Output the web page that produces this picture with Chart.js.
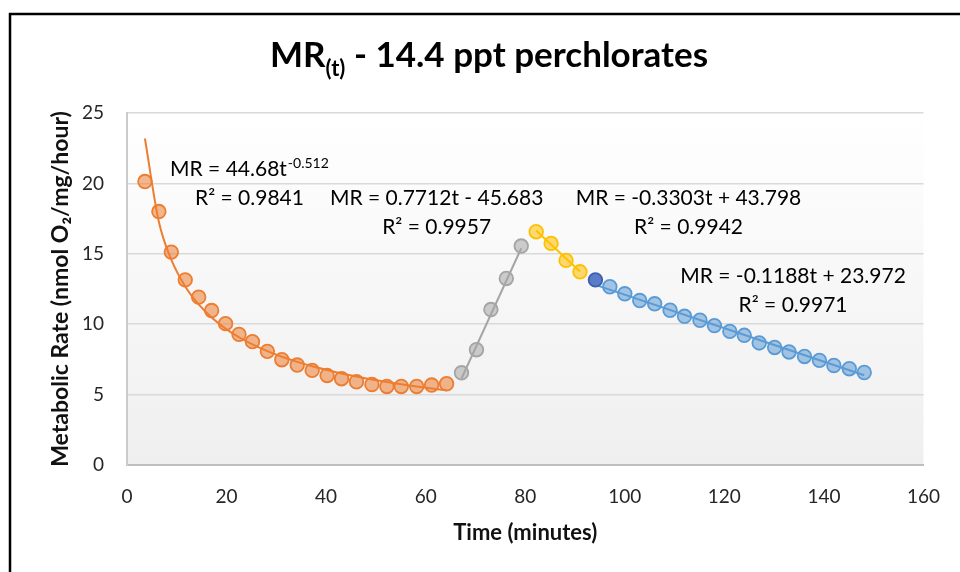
<!DOCTYPE html>
<html>
<head>
<meta charset="utf-8">
<title>MR(t) - 14.4 ppt perchlorates</title>
<script src="https://cdn.jsdelivr.net/npm/chart.js@4.4.1/dist/chart.umd.min.js"></script>
<style>
  html, body { margin: 0; padding: 0; background: #fff; }
  #wrap { position: relative; width: 960px; height: 572px; }
</style>
</head>
<body>
<div id="wrap"><canvas id="mrChart"></canvas></div>
<script>
// time (minutes) and metabolic rate (nmol O2/mg/hour), one pair per phase
const phase1Time = [3.6, 6.4, 8.9, 11.7, 14.4, 17.0, 19.8, 22.5, 25.2, 28.2, 31.1, 34.2, 37.2, 40.2, 43.1, 46.1, 49.2, 52.2, 55.1, 58.2, 61.2, 64.2];
const phase1MR   = [20.13, 18.0, 15.12, 13.15, 11.92, 10.97, 10.04, 9.28, 8.76, 8.07, 7.48, 7.10, 6.72, 6.36, 6.13, 5.91, 5.72, 5.58, 5.58, 5.58, 5.68, 5.77];

const phase2Time = [67.2, 70.2, 73.1, 76.2, 79.2];
const phase2MR   = [6.55, 8.19, 11.04, 13.25, 15.55];

const phase3Time = [82.2, 85.2, 88.2, 91.0];
const phase3MR   = [16.57, 15.74, 14.53, 13.72];

const phase4Time = [94.1, 97.0, 100.0, 103.0, 106.0, 109.1, 112.0, 115.1, 118.0, 121.1, 124.0, 127.0, 130.1, 133.0, 136.1, 139.1, 142.0, 145.1, 148.1];
const phase4MR   = [13.15, 12.66, 12.16, 11.68, 11.45, 10.99, 10.56, 10.28, 9.90, 9.49, 9.21, 8.67, 8.35, 8.03, 7.71, 7.43, 7.07, 6.84, 6.57];

// trendline coefficients as printed on the chart
const fitPower  = [44.68, -0.512];     // MR = a * t^b
const fitPhase2 = [0.7712, -45.683];   // MR = m * t + c
const fitPhase3 = [-0.3303, 43.798];
const fitPhase4 = [-0.1188, 23.972];

const xTicks = [0, 20, 40, 60, 80, 100, 120, 140, 160];
const yTicks = [0, 5, 10, 15, 20, 25];

const fitNotes = [
    { eq: 'MR = 44.68t', sup: '-0.512', r2: 'R² = 0.9841', t: 24.6, mr: 20.5 },
    { eq: 'MR = 0.7712t - 45.683', r2: 'R² = 0.9957', t: 62.2, mr: 18.45 },
    { eq: 'MR = -0.3303t + 43.798', r2: 'R² = 0.9942', t: 112.8, mr: 18.45 },
    { eq: 'MR = -0.1188t + 23.972', r2: 'R² = 0.9971', t: 133.8, mr: 12.96 }
];

const chartFont = 'Lato, "Open Sans", sans-serif';

function toPoints(xs, ys) {
    return xs.map((t, i) => ({ x: t, y: ys[i] }));
}
function linearTrend(xs, fit) {
    const ends = [xs[0], xs[xs.length - 1]];
    return ends.map(t => ({ x: t, y: fit[0] * t + fit[1] }));
}
function powerTrend(xs, fit) {
    return xs.map(t => ({ x: t, y: fit[0] * Math.pow(t, fit[1]) }));
}

const markerStyle = (fill, border) => ({
    showLine: false,
    pointRadius: 6.8,
    pointBorderWidth: 1.8,
    pointBackgroundColor: fill,
    pointBorderColor: border,
    order: 0
});
const trendStyle = (color) => ({
    showLine: true,
    pointRadius: 0,
    borderColor: color,
    borderWidth: 2,
    cubicInterpolationMode: 'monotone',
    order: 1
});

const chartFrame = {
    id: 'chartFrame',
    beforeDraw(chart) {
        const { ctx, chartArea: a } = chart;
        ctx.save();
        ctx.fillStyle = '#fff';
        ctx.fillRect(0, 0, chart.width, chart.height);
        // outer frame (cut off at right and bottom)
        ctx.strokeStyle = '#000';
        ctx.lineWidth = 2.5;
        ctx.beginPath();
        ctx.moveTo(10, chart.height + 5);
        ctx.lineTo(10, 14);
        ctx.lineTo(chart.width + 5, 14);
        ctx.stroke();
        // plot area gradient
        const g = ctx.createLinearGradient(0, a.top, 0, a.bottom);
        g.addColorStop(0, '#ffffff');
        g.addColorStop(1, '#efefef');
        ctx.fillStyle = g;
        ctx.fillRect(a.left, a.top, a.width, a.height);
        ctx.restore();
    },
    afterDatasetsDraw(chart) {
        const { ctx, scales: { x, y } } = chart;
        ctx.save();
        ctx.fillStyle = '#000';
        ctx.textBaseline = 'alphabetic';
        fitNotes.forEach(n => {
            const cx = x.getPixelForValue(n.t);
            const by = y.getPixelForValue(n.mr);
            ctx.font = `21px ${chartFont}`;
            const w = ctx.measureText(n.eq).width;
            let sw = 0;
            if (n.sup) {
                ctx.font = `14px ${chartFont}`;
                sw = ctx.measureText(n.sup).width + 1;
            }
            const x0 = cx - (w + sw) / 2;
            ctx.textAlign = 'left';
            ctx.font = `21px ${chartFont}`;
            ctx.fillText(n.eq, x0, by);
            if (n.sup) {
                ctx.font = `14px ${chartFont}`;
                ctx.fillText(n.sup, x0 + w + 1, by - 8);
            }
            ctx.font = `21px ${chartFont}`;
            ctx.textAlign = 'center';
            ctx.fillText(n.r2, cx, by + 29);
        });

        // title with subscript
        const main = 'MR', sub = '(t)', rest = ' - 14.4 ppt perchlorates';
        ctx.font = `bold 35px ${chartFont}`;
        const w1 = ctx.measureText(main).width;
        const w3 = ctx.measureText(rest).width;
        ctx.font = `bold 22px ${chartFont}`;
        const w2 = ctx.measureText(sub).width;
        const tx = 489 - (w1 + w2 + w3) / 2;
        const ty = 67;
        ctx.textAlign = 'left';
        ctx.font = `bold 35px ${chartFont}`;
        ctx.fillText(main, tx, ty);
        ctx.font = `bold 22px ${chartFont}`;
        ctx.fillText(sub, tx + w1, ty + 9);
        ctx.font = `bold 35px ${chartFont}`;
        ctx.fillText(rest, tx + w1 + w2, ty);
        ctx.restore();
    }
};

const ctx = document.getElementById('mrChart');
const config = {
    type: 'scatter',
    data: {
        datasets: [
            { label: 'phase 1', data: toPoints(phase1Time, phase1MR), ...markerStyle('rgba(237,125,49,0.55)', '#ed7d31') },
            { label: 'phase 2', data: toPoints(phase2Time, phase2MR), ...markerStyle('rgba(165,165,165,0.55)', '#a5a5a5') },
            { label: 'phase 3', data: toPoints(phase3Time, phase3MR), ...markerStyle('rgba(255,192,0,0.55)', '#ffc000') },
            { label: 'phase 4', data: toPoints(phase4Time, phase4MR), ...markerStyle(
                c => c.dataIndex === 0 ? '#5a7cc8' : 'rgba(91,155,213,0.55)',
                c => c.dataIndex === 0 ? '#3c5fae' : '#5b9bd5') },
            { label: 'power fit', data: powerTrend(phase1Time, fitPower), ...trendStyle('#ed7d31') },
            { label: 'phase 2 fit', data: linearTrend(phase2Time, fitPhase2), ...trendStyle('#a5a5a5') },
            { label: 'phase 3 fit', data: linearTrend(phase3Time, fitPhase3), ...trendStyle('#ffc000') },
            { label: 'phase 4 fit', data: linearTrend(phase4Time, fitPhase4), ...trendStyle('#5b9bd5') }
        ]
    },
    options: {
        responsive: false,
        animation: false,
        layout: { padding: { top: 113, right: 34, bottom: 10, left: 20 } },
        plugins: {
            legend: { display: false },
            tooltip: { enabled: false }
        },
        scales: {
            x: {
                type: 'linear',
                min: xTicks[0],
                max: xTicks[xTicks.length - 1],
                afterFit: s => { s.height = 97; },
                afterBuildTicks: s => { s.ticks = xTicks.map(v => ({ value: v })); },
                grid: { display: false, drawTicks: false },
                border: { color: '#bfbfbf', width: 2 },
                ticks: { padding: 20, color: '#262626', font: { family: chartFont, size: 19 } },
                title: {
                    display: true,
                    text: 'Time (minutes)',
                    color: '#111',
                    padding: { top: 0, bottom: 16 },
                    font: { family: chartFont, size: 22, weight: 'bold' }
                }
            },
            y: {
                min: yTicks[0],
                max: yTicks[yTicks.length - 1],
                afterFit: s => { s.width = 107; },
                afterBuildTicks: s => { s.ticks = yTicks.map(v => ({ value: v })); },
                grid: { color: '#d9d9d9', lineWidth: 1.5, drawTicks: false },
                border: { color: '#cccccc', width: 2 },
                ticks: { padding: 23, color: '#262626', font: { family: chartFont, size: 19 } },
                title: {
                    display: true,
                    text: 'Metabolic Rate (nmol O₂/mg/hour)',
                    color: '#111',
                    padding: { top: 27, bottom: 0 },
                    font: { family: chartFont, size: 23, weight: 'bold' }
                }
            }
        }
    },
    plugins: [chartFrame]
};
ctx.width = 960;
ctx.height = 572;
const mrChart = new Chart(ctx, config);
</script>
</body>
</html>
